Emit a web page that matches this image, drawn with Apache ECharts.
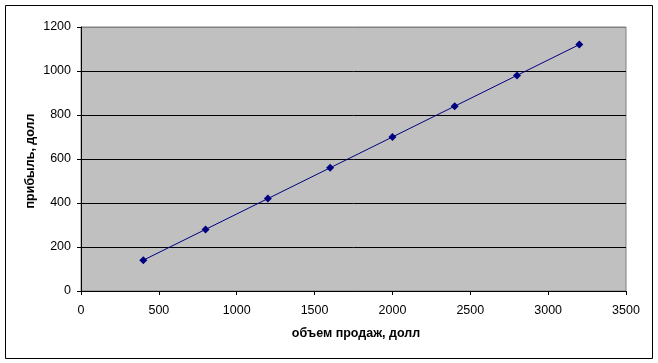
<!DOCTYPE html>
<html><head><meta charset="utf-8">
<script src="https://cdn.jsdelivr.net/npm/echarts@6/dist/echarts.min.js"></script>
<style>html,body{margin:0;padding:0;background:#fff}#c{width:658px;height:363px}</style>
</head><body><div id="c"></div>
<script>
const salesVolume = [400, 800, 1200, 1600, 2000, 2400, 2800, 3200];
const profit = [140, 280, 420, 560, 700, 840, 980, 1120];
const xTitle = 'объем продаж, долл';
const yTitle = 'прибыль, долл';

const chart = echarts.init(document.getElementById('c'), null, {renderer: 'canvas'});
const font = 'Arial, "Liberation Sans", sans-serif';
chart.setOption({
  animation: false,
  backgroundColor: '#fff',
  graphic: [
    {type: 'rect', shape: {x: 5.5, y: 5.5, width: 647, height: 353}, style: {fill: null, stroke: '#000', lineWidth: 1}, z: -1},
    {type: 'text', x: 356, y: 334, style: {text: xTitle, font: 'bold 12.5px ' + font, fill: '#000', textAlign: 'center', textVerticalAlign: 'middle'}},
    {type: 'text', x: 31, y: 161, rotation: Math.PI / 2, style: {text: yTitle, font: 'bold 12.5px ' + font, fill: '#000', textAlign: 'center', textVerticalAlign: 'middle'}}
  ],
  grid: {left: 81, top: 27, width: 545, height: 264, show: true, backgroundColor: '#C0C0C0', borderColor: '#808080', borderWidth: 1},
  xAxis: {
    type: 'value', min: 0, max: 3500, interval: 500,
    axisLine: {show: true, onZero: false, lineStyle: {color: '#000', width: 1}},
    axisTick: {show: true, inside: false, length: 4, lineStyle: {color: '#000'}},
    axisLabel: {color: '#000', fontFamily: font, fontSize: 12.5, margin: 13, formatter: v => String(v)},
    splitLine: {show: false}
  },
  yAxis: {
    type: 'value', min: 0, max: 1200, interval: 200,
    axisLine: {show: true, onZero: false, lineStyle: {color: '#000', width: 1}},
    axisTick: {show: true, inside: false, length: 4, lineStyle: {color: '#000'}},
    axisLabel: {color: '#000', fontFamily: font, fontSize: 12.5, margin: 10, formatter: v => String(v)},
    splitLine: {show: true, lineStyle: {color: ['#000', '#000', '#000', '#000', '#000', '#000', '#808080'], width: 1}}
  },
  series: [{
    type: 'line',
    data: salesVolume.map((v, i) => [v, profit[i]]),
    symbol: 'diamond', symbolSize: 8,
    itemStyle: {color: '#000080'},
    lineStyle: {color: '#000080', width: 1},
    z: 5
  }]
});
</script></body></html>
